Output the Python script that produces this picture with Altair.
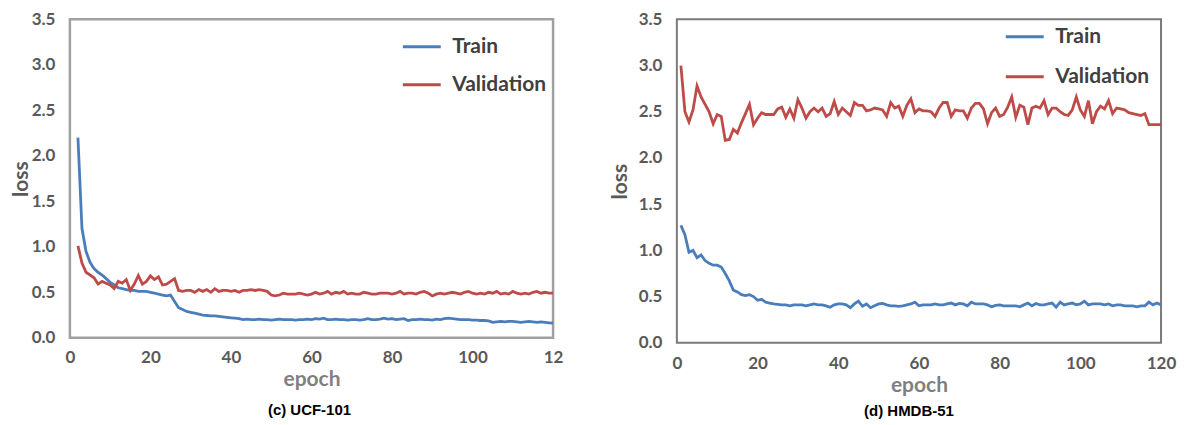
import altair as alt
import pandas as pd

# ---------------- data ----------------
ucf_first_epoch = 2
ucf_train = [
    2.20, 1.20, 0.95, 0.83, 0.76, 0.72, 0.69, 0.65, 0.61, 0.58,
    0.55, 0.54, 0.53, 0.52, 0.52, 0.51, 0.51, 0.51, 0.50, 0.49,
    0.48, 0.47, 0.46, 0.47, 0.40, 0.33, 0.31, 0.29, 0.28, 0.27,
    0.26, 0.25, 0.245, 0.24, 0.24, 0.235, 0.23, 0.225, 0.22, 0.215,
    0.21, 0.20, 0.205, 0.20, 0.20, 0.205, 0.20, 0.20, 0.195, 0.20,
    0.205, 0.20, 0.20, 0.20, 0.195, 0.20, 0.20, 0.205, 0.20, 0.21,
    0.205, 0.215, 0.20, 0.20, 0.205, 0.20, 0.20, 0.195, 0.20, 0.20,
    0.195, 0.20, 0.21, 0.20, 0.20, 0.205, 0.215, 0.205, 0.21, 0.20,
    0.205, 0.21, 0.19, 0.20, 0.20, 0.205, 0.20, 0.20, 0.195, 0.205,
    0.20, 0.21, 0.215, 0.21, 0.205, 0.20, 0.20, 0.20, 0.195, 0.195,
    0.19, 0.19, 0.185, 0.17, 0.175, 0.18, 0.175, 0.18, 0.18, 0.175,
    0.17, 0.175, 0.18, 0.175, 0.17, 0.175, 0.17, 0.165, 0.16,
]
ucf_val = [
    1.01, 0.82, 0.72, 0.69, 0.66, 0.59, 0.62, 0.60, 0.58, 0.54,
    0.62, 0.60, 0.64, 0.52, 0.59, 0.685, 0.59, 0.62, 0.68, 0.64,
    0.67, 0.58, 0.59, 0.62, 0.65, 0.52, 0.51, 0.52, 0.52, 0.50,
    0.53, 0.51, 0.53, 0.50, 0.54, 0.51, 0.52, 0.52, 0.51, 0.52,
    0.50, 0.52, 0.52, 0.53, 0.52, 0.53, 0.52, 0.51, 0.47, 0.46,
    0.47, 0.49, 0.48, 0.48, 0.48, 0.49, 0.48, 0.47, 0.48, 0.50,
    0.48, 0.49, 0.51, 0.48, 0.50, 0.49, 0.51, 0.48, 0.49, 0.48,
    0.48, 0.50, 0.49, 0.48, 0.48, 0.49, 0.49, 0.49, 0.48, 0.49,
    0.51, 0.48, 0.49, 0.49, 0.48, 0.50, 0.51, 0.49, 0.46, 0.48,
    0.49, 0.48, 0.49, 0.50, 0.49, 0.48, 0.50, 0.51, 0.49, 0.48,
    0.49, 0.48, 0.50, 0.49, 0.51, 0.48, 0.49, 0.48, 0.51, 0.49,
    0.48, 0.49, 0.48, 0.50, 0.51, 0.49, 0.50, 0.49, 0.49,
]

hmdb_first_epoch = 1
hmdb_train = [
    1.27, 1.17, 0.98, 1.00, 0.92, 0.95, 0.89, 0.86, 0.84, 0.84,
    0.82, 0.75, 0.67, 0.57, 0.55, 0.52, 0.51, 0.52, 0.50, 0.46,
    0.47, 0.44, 0.43, 0.42, 0.415, 0.41, 0.41, 0.40, 0.41, 0.41,
    0.41, 0.40, 0.41, 0.42, 0.41, 0.41, 0.40, 0.385, 0.41, 0.42,
    0.42, 0.41, 0.38, 0.42, 0.45, 0.395, 0.42, 0.38, 0.40, 0.42,
    0.425, 0.41, 0.40, 0.40, 0.395, 0.40, 0.41, 0.42, 0.44, 0.40,
    0.41, 0.41, 0.41, 0.42, 0.41, 0.41, 0.42, 0.43, 0.41, 0.425,
    0.42, 0.40, 0.44, 0.42, 0.42, 0.42, 0.41, 0.39, 0.405, 0.41,
    0.40, 0.40, 0.40, 0.40, 0.39, 0.41, 0.43, 0.40, 0.425, 0.41,
    0.41, 0.42, 0.43, 0.385, 0.44, 0.41, 0.42, 0.43, 0.41, 0.42,
    0.45, 0.41, 0.42, 0.42, 0.42, 0.41, 0.42, 0.40, 0.41, 0.41,
    0.40, 0.40, 0.40, 0.39, 0.40, 0.40, 0.44, 0.41, 0.43, 0.41,
]
hmdb_val = [
    3.00, 2.50, 2.39, 2.52, 2.78, 2.66, 2.58, 2.50, 2.37, 2.47,
    2.45, 2.19, 2.20, 2.31, 2.27, 2.38, 2.48, 2.58, 2.36, 2.43,
    2.49, 2.47, 2.47, 2.47, 2.53, 2.55, 2.44, 2.53, 2.43, 2.63,
    2.54, 2.43, 2.50, 2.54, 2.50, 2.54, 2.45, 2.48, 2.61, 2.47,
    2.54, 2.50, 2.46, 2.60, 2.57, 2.57, 2.51, 2.52, 2.54, 2.53,
    2.52, 2.45, 2.60, 2.54, 2.56, 2.45, 2.57, 2.64, 2.49, 2.53,
    2.51, 2.51, 2.50, 2.45, 2.54, 2.60, 2.60, 2.45, 2.52, 2.51,
    2.51, 2.43, 2.54, 2.59, 2.59, 2.53, 2.37, 2.49, 2.54, 2.45,
    2.47, 2.55, 2.66, 2.44, 2.57, 2.55, 2.36, 2.54, 2.56, 2.54,
    2.62, 2.47, 2.54, 2.54, 2.50, 2.47, 2.46, 2.52, 2.66, 2.52,
    2.45, 2.62, 2.37, 2.50, 2.56, 2.53, 2.62, 2.48, 2.54, 2.53,
    2.52, 2.49, 2.48, 2.47, 2.46, 2.48, 2.36, 2.36, 2.36, 2.36,
]

series_names = ["Train", "Validation"]
series_colors = ["#4A7EBB", "#BE4B48"]
x_ticks = [0, 20, 40, 60, 80, 100, 120]
y_ticks = [0.0, 0.5, 1.0, 1.5, 2.0, 2.5, 3.0, 3.5]
captions = ["(c) UCF-101", "(d) HMDB-51"]


def long_frame(first_epoch, train, val):
    rows = []
    for i, v in enumerate(train):
        rows.append({"epoch": first_epoch + i, "loss": v, "series": "Train"})
    for i, v in enumerate(val):
        rows.append({"epoch": first_epoch + i, "loss": v, "series": "Validation"})
    return pd.DataFrame(rows)


LABEL_FONT = "Lato"


def panel(df, caption, w, h, legend_x, legend_y, row_pad, last_label,
          frame_color, frame_width, cap_offset, cap_dx, x_lab_pad,
          x_title_pad, y_title_pad):
    x_axis = alt.Axis(
        values=x_ticks, title="epoch", grid=False, ticks=False, domain=False,
        labelFont=LABEL_FONT, labelFontSize=17, labelFontWeight="bold",
        labelColor="#595959", labelPadding=x_lab_pad, labelFlush=False,
        labelOverlap=False,
        labelExpr=f"datum.value == 120 ? '{last_label}' : datum.label",
        titleFont=LABEL_FONT, titleFontSize=21, titleFontWeight="bold",
        titleColor="#7F7F7F", titlePadding=x_title_pad,
    )
    y_axis = alt.Axis(
        values=y_ticks, format=".1f", title="loss", grid=False, ticks=False,
        domain=False, labelFont=LABEL_FONT, labelFontSize=17,
        labelFontWeight="bold", labelColor="#595959", labelPadding=15,
        labelFlush=False, labelOverlap=False,
        titleFont=LABEL_FONT, titleFontSize=21, titleFontWeight="bold",
        titleColor="#595959", titlePadding=y_title_pad,
    )
    legend = alt.Legend(
        title=None, orient="none", legendX=legend_x, legendY=legend_y,
        symbolType="stroke", symbolSize=1444, symbolStrokeWidth=3,
        labelFont=LABEL_FONT, labelFontSize=21, labelFontWeight="bold",
        labelColor="#404040", labelOffset=10, rowPadding=row_pad, padding=0,
    )
    return (
        alt.Chart(df)
        .mark_line(strokeWidth=2.8)
        .encode(
            x=alt.X("epoch:Q", scale=alt.Scale(domain=[0, 120], nice=False), axis=x_axis),
            y=alt.Y("loss:Q", scale=alt.Scale(domain=[0, 3.5], nice=False), axis=y_axis),
            color=alt.Color(
                "series:N",
                scale=alt.Scale(domain=series_names, range=series_colors),
                legend=legend,
            ),
        )
        .properties(
            width=w,
            height=h,
            title=alt.TitleParams(
                caption, orient="bottom", anchor="middle", frame="group",
                font="Liberation Sans", fontSize=15, fontWeight="bold",
                color="#000000", offset=cap_offset, dx=cap_dx,
            ),
            view=alt.ViewBackground(stroke=frame_color, strokeWidth=frame_width),
        )
    )


left = panel(long_frame(ucf_first_epoch, ucf_train, ucf_val), captions[0],
             484, 319, 332, 7, 7, "12", "#A0A0A0", 2.5, 13, -2, 12, 3, 0)
right = panel(long_frame(hmdb_first_epoch, hmdb_train, hmdb_val), captions[1],
              485, 324, 328, -3, 9, "120", "#7A7A7A", 2, 8, -10, 13, 3, 8)

chart = (
    alt.hconcat(left, right, spacing=43)
    .resolve_scale(color="independent")
    .resolve_legend(color="independent")
    .properties(padding=0, background="white")
)

chart.save("out.html", embed_options={"renderer": "svg", "actions": False})
